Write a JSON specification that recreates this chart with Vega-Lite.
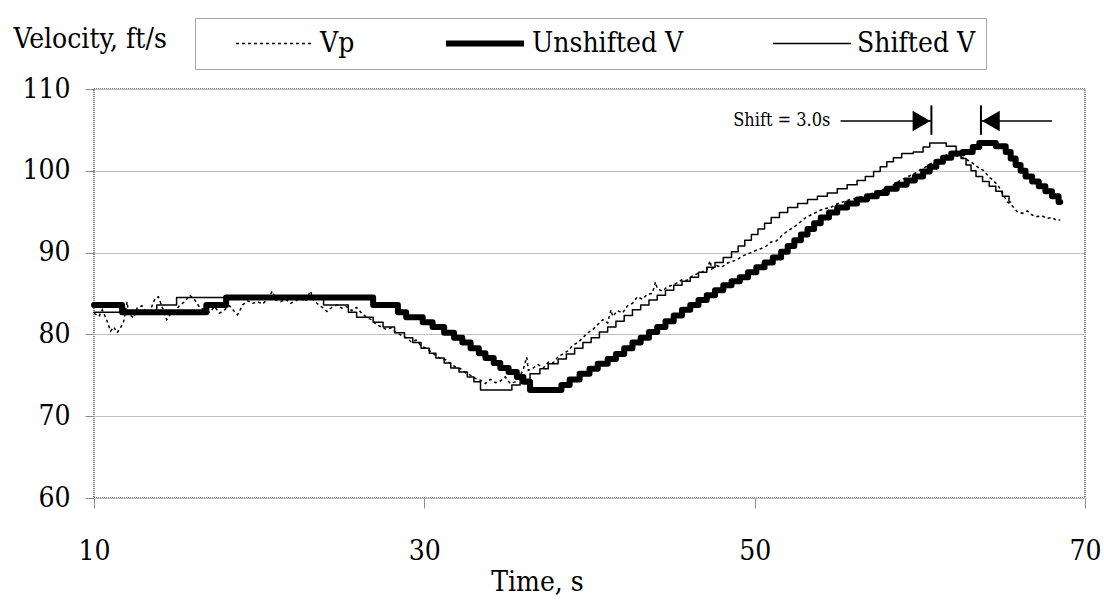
{
  "$schema": "https://vega.github.io/schema/vega-lite/v6.json",
  "width": 991,
  "height": 409,
  "autosize": {"type": "none"},
  "padding": {"left": 94, "top": 89, "right": 19, "bottom": 103},
  "background": "white",
  "config": {
    "font": "'DejaVu Serif Condensed', 'DejaVu Serif', serif",
    "view": {"stroke": "#7a7a7a", "strokeWidth": 2, "strokeDash": [1, 1]},
    "axis": {
      "labelFont": "'DejaVu Serif Condensed', 'DejaVu Serif', serif",
      "labelFontSize": 28,
      "labelColor": "black",
      "titleFont": "'DejaVu Serif Condensed', 'DejaVu Serif', serif",
      "titleFontWeight": "normal",
      "titleColor": "black",
      "tickColor": "#8c8c8c",
      "domain": false
    }
  },
  "datasets": {
    "vp": [
      {"series": "Vp", "t": 10.0, "v": 82.6}, {"series": "Vp", "t": 10.3, "v": 82.2}, {"series": "Vp", "t": 10.5, "v": 83.0},
      {"series": "Vp", "t": 10.8, "v": 81.6}, {"series": "Vp", "t": 11.0, "v": 80.4}, {"series": "Vp", "t": 11.2, "v": 80.9},
      {"series": "Vp", "t": 11.4, "v": 80.2}, {"series": "Vp", "t": 11.6, "v": 80.8}, {"series": "Vp", "t": 11.8, "v": 81.6},
      {"series": "Vp", "t": 12.0, "v": 84.0}, {"series": "Vp", "t": 12.1, "v": 82.5}, {"series": "Vp", "t": 12.4, "v": 82.0},
      {"series": "Vp", "t": 12.6, "v": 83.2}, {"series": "Vp", "t": 12.9, "v": 83.5}, {"series": "Vp", "t": 13.2, "v": 82.6},
      {"series": "Vp", "t": 13.5, "v": 83.4}, {"series": "Vp", "t": 13.7, "v": 84.4}, {"series": "Vp", "t": 13.9, "v": 84.6},
      {"series": "Vp", "t": 14.1, "v": 83.5}, {"series": "Vp", "t": 14.4, "v": 81.8}, {"series": "Vp", "t": 14.6, "v": 82.4},
      {"series": "Vp", "t": 14.9, "v": 82.8}, {"series": "Vp", "t": 15.2, "v": 83.6}, {"series": "Vp", "t": 15.5, "v": 84.0},
      {"series": "Vp", "t": 15.8, "v": 84.8}, {"series": "Vp", "t": 16.1, "v": 84.2}, {"series": "Vp", "t": 16.4, "v": 83.3},
      {"series": "Vp", "t": 16.7, "v": 83.0}, {"series": "Vp", "t": 17.0, "v": 82.7}, {"series": "Vp", "t": 17.3, "v": 83.4},
      {"series": "Vp", "t": 17.6, "v": 82.6}, {"series": "Vp", "t": 17.9, "v": 83.0}, {"series": "Vp", "t": 18.2, "v": 83.5},
      {"series": "Vp", "t": 18.5, "v": 82.8}, {"series": "Vp", "t": 18.7, "v": 82.4}, {"series": "Vp", "t": 19.0, "v": 83.6},
      {"series": "Vp", "t": 19.3, "v": 84.1}, {"series": "Vp", "t": 19.6, "v": 83.8}, {"series": "Vp", "t": 19.9, "v": 84.0},
      {"series": "Vp", "t": 20.2, "v": 83.7}, {"series": "Vp", "t": 20.5, "v": 84.3}, {"series": "Vp", "t": 20.8, "v": 85.3},
      {"series": "Vp", "t": 21.0, "v": 84.2}, {"series": "Vp", "t": 21.3, "v": 84.0}, {"series": "Vp", "t": 21.6, "v": 84.3},
      {"series": "Vp", "t": 21.9, "v": 83.8}, {"series": "Vp", "t": 22.2, "v": 84.1}, {"series": "Vp", "t": 22.5, "v": 84.4},
      {"series": "Vp", "t": 22.8, "v": 84.0}, {"series": "Vp", "t": 23.1, "v": 85.3}, {"series": "Vp", "t": 23.3, "v": 84.2},
      {"series": "Vp", "t": 23.6, "v": 83.6}, {"series": "Vp", "t": 23.9, "v": 83.2}, {"series": "Vp", "t": 24.1, "v": 82.8},
      {"series": "Vp", "t": 24.4, "v": 83.3}, {"series": "Vp", "t": 24.7, "v": 83.6}, {"series": "Vp", "t": 25.0, "v": 83.2},
      {"series": "Vp", "t": 25.3, "v": 83.4}, {"series": "Vp", "t": 25.6, "v": 82.9}, {"series": "Vp", "t": 25.9, "v": 83.3},
      {"series": "Vp", "t": 26.2, "v": 82.6}, {"series": "Vp", "t": 26.5, "v": 82.1}, {"series": "Vp", "t": 26.8, "v": 81.8},
      {"series": "Vp", "t": 27.1, "v": 81.2}, {"series": "Vp", "t": 27.4, "v": 80.9}, {"series": "Vp", "t": 27.7, "v": 80.6},
      {"series": "Vp", "t": 28.0, "v": 80.8}, {"series": "Vp", "t": 28.3, "v": 80.2}, {"series": "Vp", "t": 28.6, "v": 79.9},
      {"series": "Vp", "t": 28.9, "v": 79.6}, {"series": "Vp", "t": 29.2, "v": 79.1}, {"series": "Vp", "t": 29.5, "v": 79.3},
      {"series": "Vp", "t": 29.8, "v": 78.6}, {"series": "Vp", "t": 30.1, "v": 78.3}, {"series": "Vp", "t": 30.4, "v": 77.9},
      {"series": "Vp", "t": 30.7, "v": 77.4}, {"series": "Vp", "t": 31.0, "v": 77.0}, {"series": "Vp", "t": 31.3, "v": 76.9},
      {"series": "Vp", "t": 31.6, "v": 76.4}, {"series": "Vp", "t": 31.9, "v": 76.0}, {"series": "Vp", "t": 32.2, "v": 75.8},
      {"series": "Vp", "t": 32.5, "v": 75.3}, {"series": "Vp", "t": 32.8, "v": 75.0}, {"series": "Vp", "t": 33.1, "v": 74.6},
      {"series": "Vp", "t": 33.4, "v": 74.4}, {"series": "Vp", "t": 33.7, "v": 74.0}, {"series": "Vp", "t": 34.0, "v": 74.5},
      {"series": "Vp", "t": 34.3, "v": 74.1}, {"series": "Vp", "t": 34.6, "v": 74.3}, {"series": "Vp", "t": 34.9, "v": 74.8},
      {"series": "Vp", "t": 35.2, "v": 74.0}, {"series": "Vp", "t": 35.5, "v": 74.2}, {"series": "Vp", "t": 35.8, "v": 74.9},
      {"series": "Vp", "t": 36.0, "v": 75.8}, {"series": "Vp", "t": 36.2, "v": 77.2}, {"series": "Vp", "t": 36.3, "v": 75.6},
      {"series": "Vp", "t": 36.6, "v": 75.9}, {"series": "Vp", "t": 36.9, "v": 76.3}, {"series": "Vp", "t": 37.2, "v": 75.9},
      {"series": "Vp", "t": 37.5, "v": 76.6}, {"series": "Vp", "t": 37.8, "v": 76.5}, {"series": "Vp", "t": 38.1, "v": 77.3},
      {"series": "Vp", "t": 38.4, "v": 77.6}, {"series": "Vp", "t": 38.7, "v": 78.0}, {"series": "Vp", "t": 39.0, "v": 78.7},
      {"series": "Vp", "t": 39.3, "v": 79.0}, {"series": "Vp", "t": 39.6, "v": 79.6}, {"series": "Vp", "t": 39.9, "v": 80.2},
      {"series": "Vp", "t": 40.2, "v": 80.6}, {"series": "Vp", "t": 40.5, "v": 81.2}, {"series": "Vp", "t": 40.8, "v": 81.8},
      {"series": "Vp", "t": 41.1, "v": 81.4}, {"series": "Vp", "t": 41.3, "v": 83.0}, {"series": "Vp", "t": 41.4, "v": 82.2},
      {"series": "Vp", "t": 41.7, "v": 82.9}, {"series": "Vp", "t": 42.0, "v": 82.6}, {"series": "Vp", "t": 42.3, "v": 83.5},
      {"series": "Vp", "t": 42.6, "v": 83.8}, {"series": "Vp", "t": 42.9, "v": 84.6}, {"series": "Vp", "t": 43.2, "v": 84.3},
      {"series": "Vp", "t": 43.5, "v": 84.9}, {"series": "Vp", "t": 43.8, "v": 85.0}, {"series": "Vp", "t": 44.0, "v": 86.4},
      {"series": "Vp", "t": 44.1, "v": 85.6}, {"series": "Vp", "t": 44.4, "v": 85.3}, {"series": "Vp", "t": 44.7, "v": 85.8},
      {"series": "Vp", "t": 45.0, "v": 86.0}, {"series": "Vp", "t": 45.3, "v": 86.3}, {"series": "Vp", "t": 45.6, "v": 86.7},
      {"series": "Vp", "t": 45.9, "v": 86.6}, {"series": "Vp", "t": 46.2, "v": 87.1}, {"series": "Vp", "t": 46.5, "v": 87.4},
      {"series": "Vp", "t": 46.8, "v": 87.6}, {"series": "Vp", "t": 47.1, "v": 87.9}, {"series": "Vp", "t": 47.3, "v": 89.0},
      {"series": "Vp", "t": 47.4, "v": 88.0}, {"series": "Vp", "t": 47.7, "v": 88.4}, {"series": "Vp", "t": 48.0, "v": 88.2},
      {"series": "Vp", "t": 48.3, "v": 88.7}, {"series": "Vp", "t": 48.6, "v": 88.9}, {"series": "Vp", "t": 48.9, "v": 89.1},
      {"series": "Vp", "t": 49.2, "v": 89.5}, {"series": "Vp", "t": 49.5, "v": 89.8}, {"series": "Vp", "t": 49.8, "v": 90.0},
      {"series": "Vp", "t": 50.1, "v": 90.3}, {"series": "Vp", "t": 50.4, "v": 90.5}, {"series": "Vp", "t": 50.7, "v": 90.8},
      {"series": "Vp", "t": 51.0, "v": 91.3}, {"series": "Vp", "t": 51.3, "v": 91.4}, {"series": "Vp", "t": 51.6, "v": 92.0},
      {"series": "Vp", "t": 51.9, "v": 92.5}, {"series": "Vp", "t": 52.2, "v": 92.9}, {"series": "Vp", "t": 52.5, "v": 93.3},
      {"series": "Vp", "t": 52.8, "v": 93.8}, {"series": "Vp", "t": 53.1, "v": 94.3}, {"series": "Vp", "t": 53.4, "v": 94.6},
      {"series": "Vp", "t": 53.7, "v": 94.9}, {"series": "Vp", "t": 54.0, "v": 95.2}, {"series": "Vp", "t": 54.3, "v": 95.4},
      {"series": "Vp", "t": 54.6, "v": 95.5}, {"series": "Vp", "t": 54.9, "v": 95.9}, {"series": "Vp", "t": 55.2, "v": 96.1},
      {"series": "Vp", "t": 55.5, "v": 96.3}, {"series": "Vp", "t": 55.8, "v": 96.5}, {"series": "Vp", "t": 56.1, "v": 96.6},
      {"series": "Vp", "t": 56.4, "v": 96.8}, {"series": "Vp", "t": 56.7, "v": 97.0}, {"series": "Vp", "t": 57.0, "v": 97.2},
      {"series": "Vp", "t": 57.3, "v": 97.3}, {"series": "Vp", "t": 57.6, "v": 97.6}, {"series": "Vp", "t": 57.9, "v": 97.8},
      {"series": "Vp", "t": 58.2, "v": 98.0}, {"series": "Vp", "t": 58.5, "v": 98.4}, {"series": "Vp", "t": 58.8, "v": 98.8},
      {"series": "Vp", "t": 59.1, "v": 99.1}, {"series": "Vp", "t": 59.4, "v": 99.4}, {"series": "Vp", "t": 59.7, "v": 99.7},
      {"series": "Vp", "t": 60.0, "v": 100.1}, {"series": "Vp", "t": 60.3, "v": 100.4}, {"series": "Vp", "t": 60.6, "v": 100.8},
      {"series": "Vp", "t": 60.9, "v": 101.1}, {"series": "Vp", "t": 61.2, "v": 101.3}, {"series": "Vp", "t": 61.5, "v": 101.8},
      {"series": "Vp", "t": 61.8, "v": 102.2}, {"series": "Vp", "t": 62.1, "v": 101.9}, {"series": "Vp", "t": 62.4, "v": 101.7},
      {"series": "Vp", "t": 62.7, "v": 101.5}, {"series": "Vp", "t": 63.0, "v": 101.2}, {"series": "Vp", "t": 63.3, "v": 100.8},
      {"series": "Vp", "t": 63.6, "v": 100.3}, {"series": "Vp", "t": 63.9, "v": 100.0}, {"series": "Vp", "t": 64.2, "v": 99.2},
      {"series": "Vp", "t": 64.4, "v": 98.9}, {"series": "Vp", "t": 64.6, "v": 98.5}, {"series": "Vp", "t": 64.8, "v": 98.0},
      {"series": "Vp", "t": 65.0, "v": 97.2}, {"series": "Vp", "t": 65.3, "v": 96.2}, {"series": "Vp", "t": 65.6, "v": 95.7},
      {"series": "Vp", "t": 65.9, "v": 95.0}, {"series": "Vp", "t": 66.2, "v": 94.8}, {"series": "Vp", "t": 66.5, "v": 95.1},
      {"series": "Vp", "t": 66.8, "v": 94.6}, {"series": "Vp", "t": 67.1, "v": 94.4}, {"series": "Vp", "t": 67.4, "v": 94.5},
      {"series": "Vp", "t": 67.7, "v": 94.2}, {"series": "Vp", "t": 68.0, "v": 94.3}, {"series": "Vp", "t": 68.3, "v": 93.9},
      {"series": "Vp", "t": 68.5, "v": 94.0}
    ],
    "speed": [
      {"series": "Unshifted V", "t": 10.0, "v": 83.6}, {"series": "Unshifted V", "t": 11.7, "v": 82.7},
      {"series": "Unshifted V", "t": 16.8, "v": 83.6}, {"series": "Unshifted V", "t": 18.0, "v": 84.5},
      {"series": "Unshifted V", "t": 26.9, "v": 83.6}, {"series": "Unshifted V", "t": 28.4, "v": 82.7},
      {"series": "Unshifted V", "t": 28.9, "v": 82.1}, {"series": "Unshifted V", "t": 29.9, "v": 81.5},
      {"series": "Unshifted V", "t": 30.5, "v": 80.9}, {"series": "Unshifted V", "t": 31.2, "v": 80.2},
      {"series": "Unshifted V", "t": 31.8, "v": 79.6}, {"series": "Unshifted V", "t": 32.3, "v": 79.0},
      {"series": "Unshifted V", "t": 32.8, "v": 78.3}, {"series": "Unshifted V", "t": 33.3, "v": 77.7},
      {"series": "Unshifted V", "t": 33.7, "v": 77.1}, {"series": "Unshifted V", "t": 34.2, "v": 76.5},
      {"series": "Unshifted V", "t": 34.6, "v": 75.9}, {"series": "Unshifted V", "t": 35.1, "v": 75.4},
      {"series": "Unshifted V", "t": 35.6, "v": 74.8}, {"series": "Unshifted V", "t": 36.0, "v": 74.2},
      {"series": "Unshifted V", "t": 36.4, "v": 73.2}, {"series": "Unshifted V", "t": 38.3, "v": 73.8},
      {"series": "Unshifted V", "t": 38.8, "v": 74.5}, {"series": "Unshifted V", "t": 39.4, "v": 75.2},
      {"series": "Unshifted V", "t": 40.0, "v": 75.8}, {"series": "Unshifted V", "t": 40.5, "v": 76.4},
      {"series": "Unshifted V", "t": 41.1, "v": 77.0}, {"series": "Unshifted V", "t": 41.6, "v": 77.6},
      {"series": "Unshifted V", "t": 42.1, "v": 78.3}, {"series": "Unshifted V", "t": 42.6, "v": 79.0},
      {"series": "Unshifted V", "t": 43.1, "v": 79.6}, {"series": "Unshifted V", "t": 43.6, "v": 80.3},
      {"series": "Unshifted V", "t": 44.1, "v": 80.9}, {"series": "Unshifted V", "t": 44.6, "v": 81.6},
      {"series": "Unshifted V", "t": 45.1, "v": 82.3}, {"series": "Unshifted V", "t": 45.6, "v": 83.0},
      {"series": "Unshifted V", "t": 46.1, "v": 83.6}, {"series": "Unshifted V", "t": 46.6, "v": 84.2},
      {"series": "Unshifted V", "t": 47.1, "v": 84.8}, {"series": "Unshifted V", "t": 47.6, "v": 85.4},
      {"series": "Unshifted V", "t": 48.1, "v": 86.0}, {"series": "Unshifted V", "t": 48.6, "v": 86.5},
      {"series": "Unshifted V", "t": 49.1, "v": 87.0}, {"series": "Unshifted V", "t": 49.6, "v": 87.6},
      {"series": "Unshifted V", "t": 50.1, "v": 88.2}, {"series": "Unshifted V", "t": 50.6, "v": 88.8},
      {"series": "Unshifted V", "t": 51.1, "v": 89.4}, {"series": "Unshifted V", "t": 51.6, "v": 90.1},
      {"series": "Unshifted V", "t": 52.0, "v": 90.8}, {"series": "Unshifted V", "t": 52.4, "v": 91.5},
      {"series": "Unshifted V", "t": 52.8, "v": 92.2}, {"series": "Unshifted V", "t": 53.2, "v": 92.9},
      {"series": "Unshifted V", "t": 53.6, "v": 93.6}, {"series": "Unshifted V", "t": 54.0, "v": 94.3},
      {"series": "Unshifted V", "t": 54.5, "v": 94.9}, {"series": "Unshifted V", "t": 55.0, "v": 95.5},
      {"series": "Unshifted V", "t": 55.6, "v": 96.0}, {"series": "Unshifted V", "t": 56.2, "v": 96.5},
      {"series": "Unshifted V", "t": 56.8, "v": 96.9}, {"series": "Unshifted V", "t": 57.4, "v": 97.3},
      {"series": "Unshifted V", "t": 58.0, "v": 97.8}, {"series": "Unshifted V", "t": 58.6, "v": 98.3},
      {"series": "Unshifted V", "t": 59.2, "v": 98.8}, {"series": "Unshifted V", "t": 59.7, "v": 99.3},
      {"series": "Unshifted V", "t": 60.2, "v": 99.9}, {"series": "Unshifted V", "t": 60.6, "v": 100.5},
      {"series": "Unshifted V", "t": 61.0, "v": 101.1}, {"series": "Unshifted V", "t": 61.4, "v": 101.6},
      {"series": "Unshifted V", "t": 61.9, "v": 102.1}, {"series": "Unshifted V", "t": 62.6, "v": 102.3},
      {"series": "Unshifted V", "t": 63.2, "v": 102.9}, {"series": "Unshifted V", "t": 63.6, "v": 103.4},
      {"series": "Unshifted V", "t": 64.6, "v": 103.0}, {"series": "Unshifted V", "t": 65.2, "v": 102.3},
      {"series": "Unshifted V", "t": 65.5, "v": 101.5}, {"series": "Unshifted V", "t": 65.8, "v": 100.7},
      {"series": "Unshifted V", "t": 66.1, "v": 100.0}, {"series": "Unshifted V", "t": 66.4, "v": 99.3},
      {"series": "Unshifted V", "t": 66.8, "v": 98.7}, {"series": "Unshifted V", "t": 67.2, "v": 98.1},
      {"series": "Unshifted V", "t": 67.6, "v": 97.5}, {"series": "Unshifted V", "t": 68.0, "v": 96.9},
      {"series": "Unshifted V", "t": 68.4, "v": 96.2}, {"series": "Unshifted V", "t": 68.5, "v": 96.2},
      {"series": "Shifted V", "t": 10.0, "v": 82.7}, {"series": "Shifted V", "t": 13.8, "v": 83.6},
      {"series": "Shifted V", "t": 15.0, "v": 84.5}, {"series": "Shifted V", "t": 23.9, "v": 83.6},
      {"series": "Shifted V", "t": 25.4, "v": 82.7}, {"series": "Shifted V", "t": 25.9, "v": 82.1},
      {"series": "Shifted V", "t": 26.9, "v": 81.5}, {"series": "Shifted V", "t": 27.5, "v": 80.9},
      {"series": "Shifted V", "t": 28.2, "v": 80.2}, {"series": "Shifted V", "t": 28.8, "v": 79.6},
      {"series": "Shifted V", "t": 29.3, "v": 79.0}, {"series": "Shifted V", "t": 29.8, "v": 78.3},
      {"series": "Shifted V", "t": 30.3, "v": 77.7}, {"series": "Shifted V", "t": 30.7, "v": 77.1},
      {"series": "Shifted V", "t": 31.2, "v": 76.5}, {"series": "Shifted V", "t": 31.6, "v": 75.9},
      {"series": "Shifted V", "t": 32.1, "v": 75.4}, {"series": "Shifted V", "t": 32.6, "v": 74.8},
      {"series": "Shifted V", "t": 33.0, "v": 74.2}, {"series": "Shifted V", "t": 33.4, "v": 73.2},
      {"series": "Shifted V", "t": 35.3, "v": 73.8}, {"series": "Shifted V", "t": 35.8, "v": 74.5},
      {"series": "Shifted V", "t": 36.4, "v": 75.2}, {"series": "Shifted V", "t": 37.0, "v": 75.8},
      {"series": "Shifted V", "t": 37.5, "v": 76.4}, {"series": "Shifted V", "t": 38.1, "v": 77.0},
      {"series": "Shifted V", "t": 38.6, "v": 77.6}, {"series": "Shifted V", "t": 39.1, "v": 78.3},
      {"series": "Shifted V", "t": 39.6, "v": 79.0}, {"series": "Shifted V", "t": 40.1, "v": 79.6},
      {"series": "Shifted V", "t": 40.6, "v": 80.3}, {"series": "Shifted V", "t": 41.1, "v": 80.9},
      {"series": "Shifted V", "t": 41.6, "v": 81.6}, {"series": "Shifted V", "t": 42.1, "v": 82.3},
      {"series": "Shifted V", "t": 42.6, "v": 83.0}, {"series": "Shifted V", "t": 43.1, "v": 83.6},
      {"series": "Shifted V", "t": 43.6, "v": 84.2}, {"series": "Shifted V", "t": 44.1, "v": 84.8},
      {"series": "Shifted V", "t": 44.6, "v": 85.4}, {"series": "Shifted V", "t": 45.1, "v": 86.0},
      {"series": "Shifted V", "t": 45.6, "v": 86.5}, {"series": "Shifted V", "t": 46.1, "v": 87.0},
      {"series": "Shifted V", "t": 46.6, "v": 87.6}, {"series": "Shifted V", "t": 47.1, "v": 88.2},
      {"series": "Shifted V", "t": 47.6, "v": 88.8}, {"series": "Shifted V", "t": 48.1, "v": 89.4},
      {"series": "Shifted V", "t": 48.6, "v": 90.1}, {"series": "Shifted V", "t": 49.0, "v": 90.8},
      {"series": "Shifted V", "t": 49.4, "v": 91.5}, {"series": "Shifted V", "t": 49.8, "v": 92.2},
      {"series": "Shifted V", "t": 50.2, "v": 92.9}, {"series": "Shifted V", "t": 50.6, "v": 93.6},
      {"series": "Shifted V", "t": 51.0, "v": 94.3}, {"series": "Shifted V", "t": 51.5, "v": 94.9},
      {"series": "Shifted V", "t": 52.0, "v": 95.5}, {"series": "Shifted V", "t": 52.6, "v": 96.0},
      {"series": "Shifted V", "t": 53.2, "v": 96.5}, {"series": "Shifted V", "t": 53.8, "v": 96.9},
      {"series": "Shifted V", "t": 54.4, "v": 97.3}, {"series": "Shifted V", "t": 55.0, "v": 97.8},
      {"series": "Shifted V", "t": 55.6, "v": 98.3}, {"series": "Shifted V", "t": 56.2, "v": 98.8},
      {"series": "Shifted V", "t": 56.7, "v": 99.3}, {"series": "Shifted V", "t": 57.2, "v": 99.9},
      {"series": "Shifted V", "t": 57.6, "v": 100.5}, {"series": "Shifted V", "t": 58.0, "v": 101.1},
      {"series": "Shifted V", "t": 58.4, "v": 101.6}, {"series": "Shifted V", "t": 58.9, "v": 102.1},
      {"series": "Shifted V", "t": 59.6, "v": 102.3}, {"series": "Shifted V", "t": 60.2, "v": 102.9},
      {"series": "Shifted V", "t": 60.6, "v": 103.4}, {"series": "Shifted V", "t": 61.6, "v": 103.0},
      {"series": "Shifted V", "t": 62.2, "v": 102.3}, {"series": "Shifted V", "t": 62.5, "v": 101.5},
      {"series": "Shifted V", "t": 62.8, "v": 100.7}, {"series": "Shifted V", "t": 63.1, "v": 100.0},
      {"series": "Shifted V", "t": 63.4, "v": 99.3}, {"series": "Shifted V", "t": 63.8, "v": 98.7},
      {"series": "Shifted V", "t": 64.2, "v": 98.1}, {"series": "Shifted V", "t": 64.6, "v": 97.5},
      {"series": "Shifted V", "t": 65.0, "v": 96.9}, {"series": "Shifted V", "t": 65.4, "v": 96.2},
      {"series": "Shifted V", "t": 65.5, "v": 96.2}
    ],
    "shiftBars": [
      {"t": 60.7, "v": 104.4, "v2": 108.0},
      {"t": 63.7, "v": 104.4, "v2": 108.0}
    ],
    "shiftShafts": [
      {"t": 55.2, "t2": 60.7, "v": 106.1},
      {"t": 63.7, "t2": 68.0, "v": 106.1}
    ],
    "shiftHeads": [
      {"t": 60.1, "v": 106.1, "dir": "in-right"},
      {"t": 64.3, "v": 106.1, "dir": "in-left"}
    ],
    "shiftNote": [
      {"t": 54.7, "v": 106.1, "label": "Shift = 3.0s"}
    ]
  },
  "encoding": {
    "x": {
      "field": "t",
      "type": "quantitative",
      "scale": {"domain": [10, 70], "nice": false, "zero": false},
      "axis": {
        "values": [10, 30, 50, 70],
        "grid": false,
        "tickSize": 10,
        "labelPadding": 29,
        "labelFlush": false,
        "title": "Time, s",
        "titleFontSize": 28,
        "titleX": 443,
        "titleY": 92,
        "titleAlign": "center",
        "titleBaseline": "alphabetic"
      }
    },
    "y": {
      "field": "v",
      "type": "quantitative",
      "scale": {"domain": [60, 110], "nice": false, "zero": false},
      "axis": {
        "values": [60, 70, 80, 90, 100, 110],
        "grid": true,
        "gridColor": "#bdbdbd",
        "gridWidth": 1,
        "tickSize": 9,
        "labelPadding": 15,
        "title": "Velocity, ft/s",
        "titleFontSize": 28,
        "titleAngle": 0,
        "titleAlign": "left",
        "titleBaseline": "alphabetic",
        "titleX": -81,
        "titleY": -42
      }
    }
  },
  "layer": [
    {
      "data": {"name": "vp"},
      "mark": {"type": "line", "interpolate": "linear"},
      "encoding": {
        "color": {
          "field": "series",
          "type": "nominal",
          "scale": {"domain": ["Vp", "Unshifted V", "Shifted V"], "range": ["black", "black", "black"]},
          "legend": {
            "orient": "none",
            "legendX": 101,
            "legendY": -71,
            "direction": "horizontal",
            "title": " ",
            "titleOrient": "left",
            "titleFont": "'DejaVu Serif Condensed', 'DejaVu Serif', serif",
            "titleFontSize": 28,
            "titlePadding": 30,
            "symbolType": "stroke",
            "symbolSize": 6084,
            "clipHeight": 31,
            "padding": 10,
            "strokeColor": "#a6a6a6",
            "fillColor": "white",
            "labelFont": "'DejaVu Serif Condensed', 'DejaVu Serif', serif",
            "labelFontSize": 28,
            "labelColor": "black",
            "labelOffset": 5,
            "columnPadding": 88
          }
        },
        "strokeDash": {
          "field": "series",
          "type": "nominal",
          "scale": {"domain": ["Vp", "Unshifted V", "Shifted V"], "range": [[3, 3], [1, 0], [1, 0]]}
        },
        "strokeWidth": {
          "field": "series",
          "type": "nominal",
          "scale": {"type": "ordinal", "domain": ["Vp", "Unshifted V", "Shifted V"], "range": [1.5, 6, 1.5]}
        }
      }
    },
    {
      "data": {"name": "speed"},
      "mark": {"type": "line", "interpolate": "step-after", "strokeCap": "round", "strokeJoin": "round"},
      "encoding": {
        "color": {
          "field": "series",
          "type": "nominal",
          "scale": {"domain": ["Vp", "Unshifted V", "Shifted V"], "range": ["black", "black", "black"]}
        },
        "strokeDash": {
          "field": "series",
          "type": "nominal",
          "scale": {"domain": ["Vp", "Unshifted V", "Shifted V"], "range": [[3, 3], [1, 0], [1, 0]]}
        },
        "strokeWidth": {
          "field": "series",
          "type": "nominal",
          "scale": {"type": "ordinal", "domain": ["Vp", "Unshifted V", "Shifted V"], "range": [1.5, 6, 1.5]}
        }
      }
    },
    {
      "data": {"name": "shiftBars"},
      "mark": {"type": "rule", "color": "black", "strokeWidth": 2},
      "encoding": {
        "y": {"field": "v", "type": "quantitative"},
        "y2": {"field": "v2"}
      }
    },
    {
      "data": {"name": "shiftShafts"},
      "mark": {"type": "rule", "color": "black", "strokeWidth": 1.5},
      "encoding": {
        "x": {"field": "t", "type": "quantitative"},
        "x2": {"field": "t2"}
      }
    },
    {
      "data": {"name": "shiftHeads"},
      "mark": {"type": "point", "filled": true, "color": "black", "opacity": 1, "size": 420},
      "encoding": {
        "shape": {
          "field": "dir",
          "type": "nominal",
          "scale": {"domain": ["in-right", "in-left"], "range": ["triangle-right", "triangle-left"]},
          "legend": null
        }
      }
    },
    {
      "data": {"name": "shiftNote"},
      "mark": {"type": "text", "align": "right", "baseline": "middle", "font": "'DejaVu Serif Condensed', 'DejaVu Serif', serif", "fontSize": 18, "color": "black", "dx": -2},
      "encoding": {
        "text": {"field": "label", "type": "nominal"}
      }
    }
  ]
}
